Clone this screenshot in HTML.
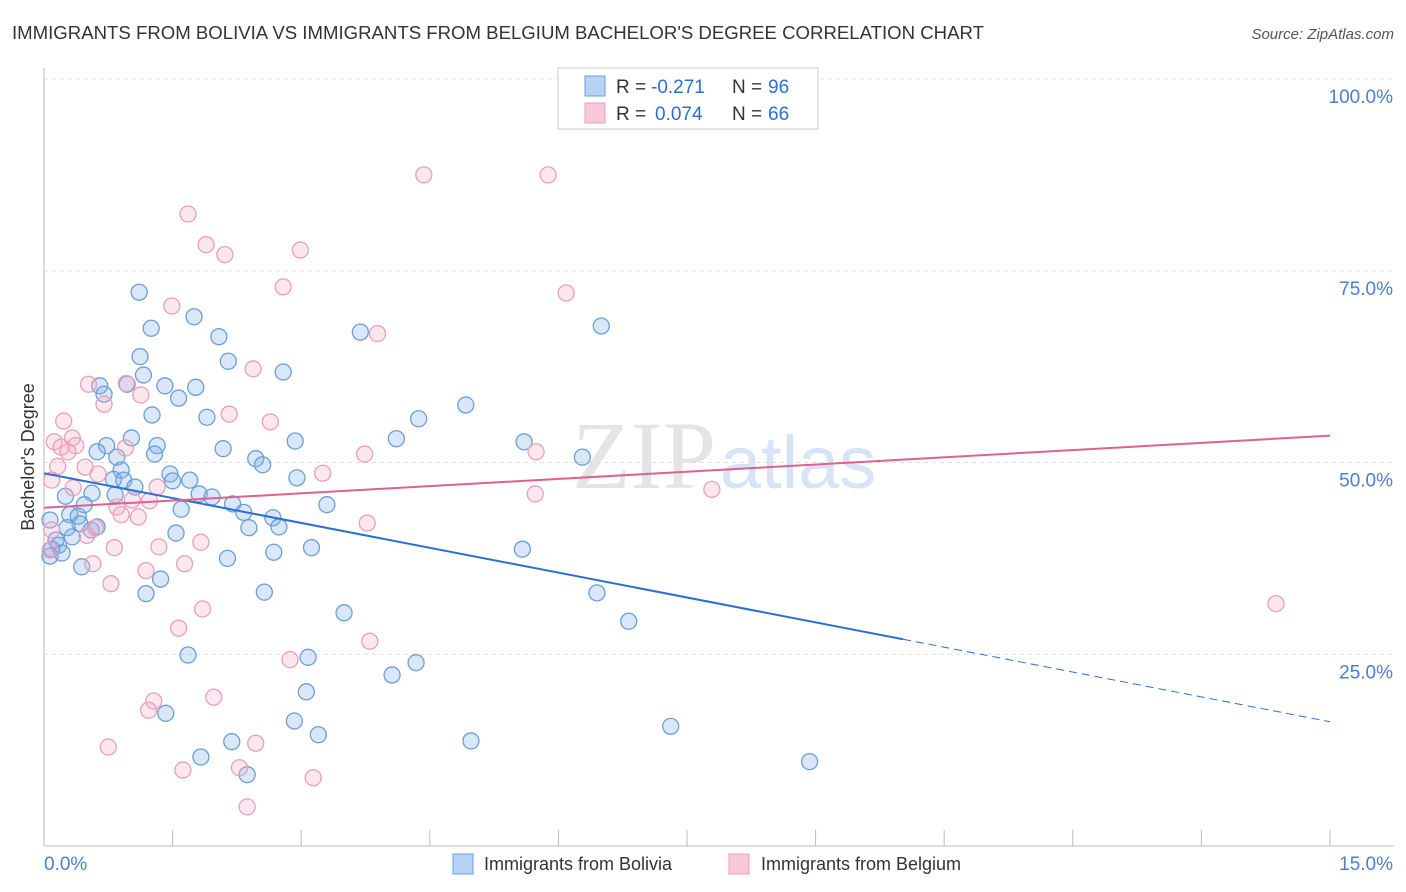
<!DOCTYPE html>
<html><head><meta charset="utf-8"><style>
body{margin:0;background:#fff;font-family:"Liberation Sans",sans-serif;}
svg{display:block}
</style></head><body>
<svg width="1406" height="892" id="chart">
<text x="12" y="39" font-size="18.6" fill="#333">IMMIGRANTS FROM BOLIVIA VS IMMIGRANTS FROM BELGIUM BACHELOR'S DEGREE CORRELATION CHART</text>
<text x="1394" y="39" font-size="15" font-style="italic" fill="#555" text-anchor="end">Source: ZipAtlas.com</text>
<text x="716" y="488" font-size="96" font-family="Liberation Serif,serif" fill="#e4e4e4" text-anchor="end">ZIP</text>
<text x="720" y="488" font-size="74" fill="#d6e4f6">atlas</text>
<text transform="translate(34,457) rotate(-90)" font-size="18" fill="#333" text-anchor="middle">Bachelor's Degree</text>
<g id="grid"></g><g id="pts"></g><g id="lines"></g>
<g>
<rect x="558" y="68" width="260" height="61" fill="#fff" stroke="#ccc"/>
<rect x="585" y="76" width="20" height="20" fill="#b8d2f5" stroke="#6a9fd8"/>
<text x="616" y="93" font-size="19" fill="#333">R =</text>
<text x="651" y="93" font-size="19" fill="#2a6fd6">-0.271</text>
<text x="732" y="93" font-size="19" fill="#333">N =</text>
<text x="768" y="93" font-size="19" fill="#2a6fd6">96</text>
<rect x="585" y="103" width="20" height="20" fill="#f8c8d8" stroke="#e8a0b8"/>
<text x="616" y="120" font-size="19" fill="#333">R =</text>
<text x="655" y="120" font-size="19" fill="#2a6fd6">0.074</text>
<text x="732" y="120" font-size="19" fill="#333">N =</text>
<text x="768" y="120" font-size="19" fill="#2a6fd6">66</text>
</g>
<g>
<rect x="453" y="854" width="20" height="20" fill="#b8d2f5" stroke="#6a9fd8"/>
<text x="484" y="870" font-size="18" fill="#333">Immigrants from Bolivia</text>
<rect x="729" y="854" width="20" height="20" fill="#f8c8d8" stroke="#e8a0b8"/>
<text x="761" y="870" font-size="18" fill="#333">Immigrants from Belgium</text>
</g>
</svg>
<script>
const xTicks=[0,1.5,3,4.5,6,7.5,9,10.5,12,13.5,15];
const yTicks=[25,50,75,100];
const yTickLabels=["25.0%","50.0%","75.0%","100.0%"];
const xEndLabels=["0.0%","15.0%"];
const boliviaX=[1.11,1.25,1.75,2.04,1.12,2.15,2.79,1.16,0.65,0.97,1.41,1.77,0.70,1.57,1.26,1.90,4.37,4.92,3.69,6.50,1.02,0.73,1.32,2.09,2.93,4.11,5.60,6.28,0.62,1.29,0.85,2.47,2.55,0.90,1.47,2.95,0.81,0.93,1.50,1.70,1.06,0.56,0.25,0.83,1.81,1.96,2.20,3.30,0.47,1.60,2.33,0.30,0.40,2.67,0.07,0.42,0.27,0.62,2.39,2.74,0.55,1.54,0.33,0.14,0.17,0.09,0.07,0.21,2.68,3.12,5.58,2.14,0.44,1.36,1.19,2.57,6.45,3.50,6.82,1.68,3.08,4.34,4.06,3.06,1.42,2.92,7.31,3.20,4.98,2.19,1.83,2.37,8.93];
const boliviaY=[72.2,67.5,69.0,66.4,63.8,63.2,61.8,61.4,60.0,60.2,60.0,59.8,58.9,58.4,56.2,55.9,55.7,57.5,67.0,67.8,53.2,52.2,52.2,51.8,52.8,53.1,52.7,50.7,51.4,51.1,50.7,50.5,49.7,49.0,48.5,48.0,47.8,47.7,47.6,47.7,46.8,46.0,45.6,45.8,45.9,45.5,44.6,44.5,44.5,43.9,43.5,43.2,43.0,42.8,42.5,42.0,41.5,41.6,41.5,41.6,41.2,40.8,40.3,39.9,39.2,38.7,37.8,38.2,38.3,38.9,38.7,37.5,36.4,34.8,32.9,33.1,33.0,30.4,29.3,24.9,24.6,23.9,22.3,20.1,17.3,16.3,15.6,14.5,13.7,13.6,11.6,9.3,11.0];
const belgiumX=[4.43,5.88,1.68,1.89,2.99,2.11,2.79,6.09,1.49,3.89,2.44,0.52,0.96,1.13,0.70,2.16,0.23,2.64,0.33,0.12,0.20,0.37,0.95,0.28,3.74,5.74,0.16,0.48,0.63,3.25,0.09,0.34,1.32,7.79,5.73,1.03,1.23,0.85,0.90,1.10,3.77,0.09,0.60,0.50,1.83,0.82,1.34,0.07,1.64,0.57,1.19,0.78,1.85,14.37,1.57,3.80,2.87,1.98,1.28,1.22,0.75,2.47,1.62,2.28,3.14,2.37];
const belgiumY=[87.5,87.5,82.4,78.4,77.7,77.1,72.9,72.1,70.4,66.8,62.2,60.2,60.3,58.8,57.6,56.3,55.4,55.3,53.2,52.7,52.0,52.2,51.9,51.4,51.1,51.4,49.5,49.4,48.5,48.6,47.7,46.7,46.8,46.5,45.9,45.1,45.0,44.2,43.2,42.9,42.1,41.2,41.5,40.5,39.6,38.9,39.0,38.6,36.8,36.8,35.9,34.2,30.9,31.6,28.4,26.7,24.3,19.4,18.9,17.7,12.9,13.4,9.9,10.2,8.9,5.1];
const boliviaTrend=[48.6,16.2]; const boliviaSolidEnd=10.02;
const belgiumTrend=[44.1,53.5];
const X=v=>44+v/15*1286, Y=v=>846-v*7.67;
const NS="http://www.w3.org/2000/svg";
function mk(parent,tag,attrs){const e=document.createElementNS(NS,tag);for(const k in attrs)e.setAttribute(k,attrs[k]);document.getElementById(parent).appendChild(e);return e;}
let e;
yTicks.forEach((t,i)=>{
 e=mk('grid','line',{x1:44,x2:1394,y1:Y(t),y2:Y(t),stroke:'#ddd','stroke-dasharray':'4,4'});
 
 
 e=mk('grid','text',{x:1393,y:Y(t)+24,'font-size':19,fill:'#4a7fd0','text-anchor':'end'});e.textContent=yTickLabels[i];
 
 
});
e=mk('grid','line',{x1:44,x2:44,y1:68,y2:846,stroke:'#bbb'});


e=mk('grid','line',{x1:44,x2:1394,y1:846,y2:846,stroke:'#bbb'});


xTicks.forEach(t=>{
 e=mk('grid','line',{x1:X(t),x2:X(t),y1:830,y2:846,stroke:'#bbb'});
 
 
});
e=mk('grid','text',{x:44,y:870,'font-size':19,fill:'#4a7fd0'});e.textContent=xEndLabels[0];


e=mk('grid','text',{x:1393,y:870,'font-size':19,fill:'#4a7fd0','text-anchor':'end'});e.textContent=xEndLabels[1];


boliviaX.forEach((x,i)=>{
 e=mk('pts','circle',{cx:X(x),cy:Y(boliviaY[i]),r:8,fill:'rgba(130,175,235,0.3)',stroke:'#6a9fd8','stroke-width':1.3});
 
 
});
belgiumX.forEach((x,i)=>{
 e=mk('pts','circle',{cx:X(x),cy:Y(belgiumY[i]),r:8,fill:'rgba(245,175,200,0.3)',stroke:'#e8a0b8','stroke-width':1.3});
 
 
});
const bAt=x=>boliviaTrend[0]+(boliviaTrend[1]-boliviaTrend[0])*x/15;
e=mk('lines','line',{x1:X(0),y1:Y(bAt(0)),x2:X(boliviaSolidEnd),y2:Y(bAt(boliviaSolidEnd)),stroke:'#2a6fd6','stroke-width':2});


e=mk('lines','line',{x1:X(boliviaSolidEnd),y1:Y(bAt(boliviaSolidEnd)),x2:X(15),y2:Y(bAt(15)),stroke:'#2a6fd6','stroke-width':1,'stroke-dasharray':'8,5'});


e=mk('lines','line',{x1:X(0),y1:Y(belgiumTrend[0]),x2:X(15),y2:Y(belgiumTrend[1]),stroke:'#e06090','stroke-width':2});


</script>
</body></html>
